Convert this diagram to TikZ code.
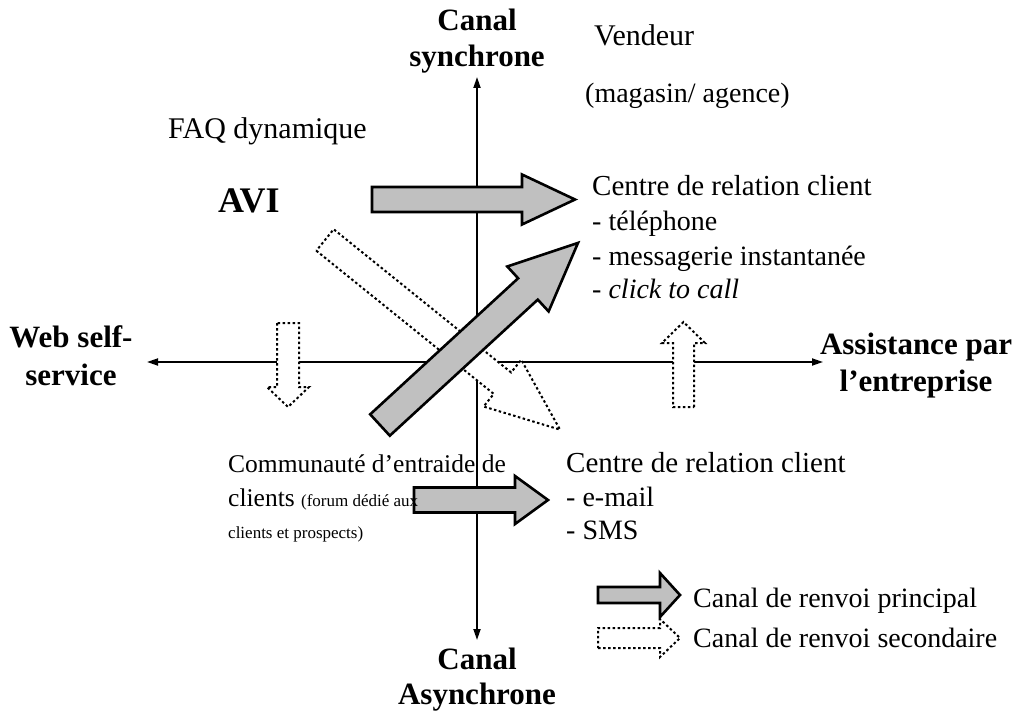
\documentclass[tikz,border=0pt]{standalone}
\usepackage{fontspec}
\setmainfont{Liberation Serif}
\usetikzlibrary{arrows.meta}
\definecolor{arrowgray}{RGB}{192,192,192}
\tikzset{
  axisline/.style={line width=1.8pt,{Triangle[length=11pt,width=7pt]}-{Triangle[length=11pt,width=7pt]}},
  mainarrow/.style={draw=black,line width=2.6pt,fill=arrowgray,line join=miter},
  secarrow/.style={draw=black,line width=2pt,fill=white,dash pattern=on 2.5pt off 2.5pt},
  legmain/.style={draw=black,line width=2.6pt,fill=arrowgray,line join=miter},
  bigbold/.style={inner sep=0pt,anchor=base,font=\bfseries\fontsize{31}{36}\selectfont},
  txt/.style={inner sep=0pt,anchor=base west,font=\fontsize{29}{34}\selectfont},
  item/.style={inner sep=0pt,anchor=base west,font=\fontsize{28}{33}\selectfont},
  legtxt/.style={inner sep=0pt,anchor=base west,font=\fontsize{28}{33}\selectfont},
  comtxt/.style={inner sep=0pt,anchor=base west,font=\fontsize{25.5}{30}\selectfont},
  smalltxt/.style={inner sep=0pt,anchor=base west,font=\fontsize{17}{21}\selectfont},
}
\newcommand\blockarrow[7]{%
  \draw[#1,shift={(#2)},rotate=#3] (0,#5) -- ({#4-#7},#5) -- ({#4-#7},#6) -- (#4,0)
    -- ({#4-#7},-#6) -- ({#4-#7},-#5) -- (0,-#5) -- cycle;}
\begin{document}
\begin{tikzpicture}[x=1pt,y=-1pt]
\useasboundingbox (0,0) rectangle (1016,711);
% axes
\coordinate (yt) at (477,77);
\coordinate (yb) at (477,640);
\coordinate (xl) at (147,362);
\coordinate (xr) at (823,362);
\draw[axisline] (yb) -- (yt);
\draw[axisline] (xl) -- (xr);
% secondary (dotted) arrows
\blockarrow{secarrow}{325,240}{-38.9}{302}{13.8}{30}{74}
\blockarrow{secarrow}{288,323}{-90}{84}{11}{21}{20}
\blockarrow{secarrow}{683.5,407}{90}{85}{10.5}{21.5}{21}
% main (grey) arrows
\blockarrow{mainarrow}{372,199.5}{0}{203}{12.5}{25}{53}
\blockarrow{mainarrow}{380,425}{42.6}{269}{14.5}{30.5}{68}
\blockarrow{mainarrow}{414,500}{0}{134}{12.5}{24}{33}
% axis labels
\node[bigbold] (cs1) at (477,31) {Canal};
\node[bigbold] (cs2) at (477,67) {synchrone};
\node[bigbold] (ca1) at (477,669) {Canal};
\node[bigbold] (ca2) at (477,704) {Asynchrone};
\node[bigbold] (ws1) at (71,347) {Web self-};
\node[bigbold] (ws2) at (71,385) {service};
\node[bigbold] (ap1) at (916,354) {Assistance par};
\node[bigbold] (ap2) at (916,391) {l’entreprise};
% texts
\node[txt,font=\fontsize{30}{34}\selectfont] (vend) at (594,46) {Vendeur};
\node[item] (mag) at (585,103) {(magasin/ agence)};
\node[txt,font=\fontsize{30}{34}\selectfont] (faq) at (168,139) {FAQ dynamique};
\node[inner sep=0pt,anchor=base west,font=\bfseries\fontsize{36}{40}\selectfont] (avi) at (218,213) {AVI};
\node[txt] (crc1) at (592,196) {Centre de relation client};
\node[item] (crc2) at (592,231) {- téléphone};
\node[item] (crc3) at (592,265) {- messagerie instantanée};
\node[item] (crc4) at (592,298) {- \textit{click to call}};
\node[comtxt] (com1) at (228,472) {Communauté d’entraide de};
\node[comtxt] (com2) at (228,506) {clients {\fontsize{17}{21}\selectfont (forum dédié aux}};
\node[smalltxt] (com3) at (228,538) {clients et prospects)};
\node[txt] (crd1) at (566,472) {Centre de relation client};
\node[item] (crd2) at (566,506) {- e-mail};
\node[item] (crd3) at (566,539) {- SMS};
% legend
\blockarrow{legmain}{598,595}{0}{82}{8}{22}{20}
\blockarrow{secarrow}{598,638}{0}{82}{10}{19}{20}
\node[legtxt] (leg1) at (693,607) {Canal de renvoi principal};
\node[legtxt] (leg2) at (693,647) {Canal de renvoi secondaire};
\end{tikzpicture}
\end{document}
